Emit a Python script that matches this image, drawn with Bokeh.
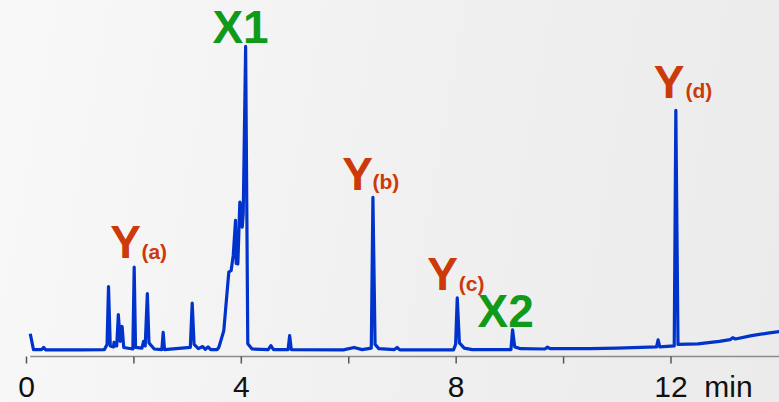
from bokeh.plotting import figure
from bokeh.models import Range1d, ColumnDataSource
from bokeh.core.properties import value
from bokeh.embed import file_html
from bokeh.resources import INLINE

# chromatogram trace (time in min, relative intensity)
time_min = [0.07, 0.13, 0.28, 0.32, 0.36, 1.00, 1.45, 1.50, 1.527, 1.56, 1.62, 1.63, 1.66,
            1.68, 1.71, 1.745, 1.78, 1.81, 1.98, 2.005, 2.03, 2.15, 2.18, 2.21, 2.25, 2.28,
            2.33, 2.38, 2.52, 2.545, 2.57, 3.05, 3.085, 3.12, 3.20, 3.28, 3.33, 3.38, 3.43,
            3.55, 3.58, 3.62, 3.674, 3.737, 3.767, 3.81, 3.849, 3.892, 3.905, 3.935, 3.972,
            3.998, 4.017, 4.035, 4.08, 4.12, 4.20, 4.50, 4.55, 4.60, 4.87, 4.90, 4.93,
            5.90, 6.10, 6.25, 6.42, 6.45, 6.49, 6.56, 6.85, 6.90, 6.95, 7.95, 7.99, 8.02,
            8.06, 8.15, 8.30, 9.02, 9.05, 9.09, 9.20, 9.65, 9.70, 9.75, 10.50, 11.00, 11.73,
            11.76, 11.79, 12.06, 12.09, 12.13, 12.50, 12.90, 13.10, 13.15, 13.20, 13.50,
            13.80, 14.02]
signal = [5.5, 0.3, 0.3, 1.0, 0.2, 0.2, 0.3, 2.0, 21.0, 1.5, 1.2, 2.7, 1.5,
          1.5, 11.8, 3.0, 7.9, 1.0, 0.5, 27.4, 1.0, 0.8, 3.0, 1.5, 18.7, 2.5,
          1.5, 0.5, 0.3, 6.0, 0.3, 1.0, 15.6, 2.0, 0.6, 1.3, 0.4, 1.2, 0.3,
          0.3, 1.0, 3.3, 6.6, 19.7, 25.8, 26.3, 31.2, 42.8, 28.6, 28.5, 48.8,
          47.1, 40.6, 45.0, 100.0, 2.2, 0.5, 0.3, 1.6, 0.3, 0.3, 4.9, 0.3,
          0.2, 1.0, 0.3, 0.8, 50.4, 2.0, 0.6, 0.3, 1.0, 0.2, 0.2, 2.0, 17.3,
          2.5, 0.8, 0.3, 0.3, 6.8, 1.2, 0.6, 0.5, 1.1, 0.6, 0.6, 0.8, 1.2,
          3.5, 1.2, 1.5, 79.0, 2.0, 2.2, 3.0, 3.6, 4.2, 3.8, 4.9,
          5.7, 6.2]

# peak labels (anchored at their vertical middle)
main_text = ["Y", "X1", "Y", "Y", "X2", "Y"]
main_color = ["#cc3a0a", "#0f9a1a", "#cc3a0a", "#cc3a0a", "#0f9a1a", "#cc3a0a"]
main_align = ["left", "center", "left", "left", "center", "left"]
main_x = [1.56, 3.985, 5.88, 7.46, 8.92, 11.68]
main_y = [35.7, 106.3, 58.1, 25.2, 13.1, 88.2]

sub_text = ["(a)", "(b)", "(c)", "(d)"]
sub_x = [2.14, 6.44, 8.05, 12.27]
sub_y = [32.6, 55.5, 22.0, 85.6]

# time axis
tick_values = [0, 2, 4, 6, 8, 10, 12]
label_values = [0, 4, 8, 12]
label_texts = ["0", "4", "8", "12"]
unit_text = "min"
unit_x = 12.62
axis_start, axis_end = 0.07, 14.02
axis_y = -1.97
tick_end_y = -4.3
label_y = -11.9

p = figure(width=779, height=402, output_backend="svg", toolbar_location=None,
           x_range=Range1d(-0.484, 14.02), y_range=Range1d(-17.1, 115.1),
           x_axis_location=None, y_axis_location=None,
           min_border_left=0, min_border_right=0, min_border_top=0, min_border_bottom=0)
p.background_fill_color = None
p.border_fill_color = None
p.styles = {"background": "linear-gradient(100deg, #f9f9f9 0%, #f1f1f1 45%, #ebebeb 100%)"}
p.outline_line_color = None
p.grid.visible = False

# axis line and ticks
p.segment(x0=[axis_start], y0=[axis_y], x1=[axis_end], y1=[axis_y],
          line_color="#8a8a8a", line_width=1.5)
p.segment(x0=tick_values, y0=[axis_y] * len(tick_values), x1=tick_values,
          y1=[tick_end_y] * len(tick_values), line_color="#555555", line_width=1.5)
p.text(x=label_values, y=[label_y] * len(label_values), text=label_texts,
       text_align="center", text_baseline="middle", text_font=value("Liberation Sans"),
       text_font_size="30px", text_color="#111111")
p.text(x=[unit_x], y=[label_y], text=[unit_text], text_align="left",
       text_baseline="middle", text_font=value("Liberation Sans"),
       text_font_size="30px", text_color="#111111")

p.line(time_min, signal, line_color="#0033cc", line_width=3.2, line_join="round")

src_main = ColumnDataSource(dict(x=main_x, y=main_y, text=main_text, color=main_color, align=main_align))
p.text(x="x", y="y", text="text", source=src_main, text_color="color", text_align="align",
       text_baseline="middle", text_font=value("Liberation Sans"),
       text_font_style="bold", text_font_size="46px")
src_sub = ColumnDataSource(dict(x=sub_x, y=sub_y, text=sub_text))
p.text(x="x", y="y", text="text", source=src_sub, text_color="#cc3a0a", text_align="left",
       text_baseline="middle", text_font=value("Liberation Sans"),
       text_font_style="bold", text_font_size="21px")

open("out.html", "w").write(file_html(p, INLINE))
